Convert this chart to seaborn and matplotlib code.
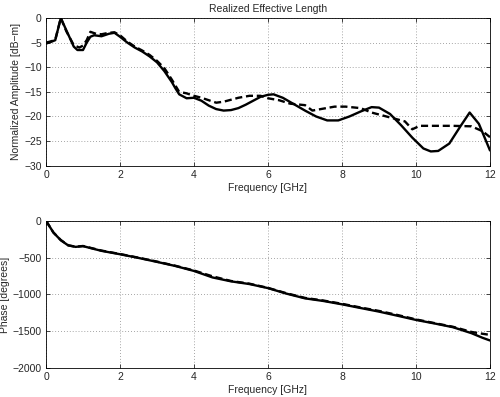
import matplotlib
matplotlib.use("Agg")
import matplotlib.pyplot as plt
import seaborn as sns
import pandas as pd

# Amplitude data
freq_amp_solid = [0, 0.15, 0.25, 0.4, 0.55, 0.75, 0.85, 1.0, 1.1, 1.2, 1.3, 1.5, 1.7, 1.85, 2.0, 2.2, 2.4, 2.6, 2.8, 3.0, 3.2, 3.4, 3.5, 3.6, 3.8, 4.0, 4.2, 4.4, 4.6, 4.8, 5.0, 5.2, 5.4, 5.6, 5.8, 6.0, 6.15, 6.4, 6.7, 7.0, 7.3, 7.6, 7.9, 8.2, 8.5, 8.8, 9.0, 9.3, 9.6, 9.9, 10.2, 10.4, 10.6, 10.9, 11.2, 11.45, 11.7, 12.0]
amp_solid = [-5.2, -4.8, -4.5, 0, -2.5, -5.8, -6.5, -6.5, -5, -3.8, -3.5, -3.7, -3.2, -3.0, -3.8, -5.0, -6.0, -6.8, -7.8, -9.0, -10.8, -13.0, -14.3, -15.5, -16.3, -16.2, -16.8, -17.8, -18.5, -18.8, -18.7, -18.3, -17.6, -16.8, -16.0, -15.6, -15.5, -16.2, -17.5, -18.8, -20.0, -20.8, -20.8, -20.0, -19.0, -18.1, -18.2, -19.5, -21.8, -24.3, -26.5, -27.1, -27.0, -25.5, -22.0, -19.2, -21.5, -26.9]

freq_amp_dash = [0, 0.15, 0.25, 0.4, 0.55, 0.75, 0.9, 1.0, 1.1, 1.2, 1.35, 1.5, 1.7, 1.85, 2.0, 2.2, 2.4, 2.6, 2.8, 3.0, 3.2, 3.4, 3.6, 3.8, 4.0, 4.2, 4.4, 4.6, 4.8, 5.0, 5.2, 5.5, 5.8, 6.0, 6.3, 6.6, 7.0, 7.2, 7.5, 7.8, 8.1, 8.5, 8.8, 9.1, 9.4, 9.7, 9.9, 10.1, 10.5, 11.0, 11.5, 11.8, 12.0]
amp_dash = [-5.0, -4.7, -4.4, 0, -2.7, -5.5, -6.0, -5.6, -4.5, -2.8, -3.2, -3.3, -3.0, -2.9, -3.5, -4.8, -5.8, -6.6, -7.5, -8.7, -10.2, -12.5, -15.0, -15.3, -15.8, -16.2, -16.7, -17.2, -17.0, -16.6, -16.2, -15.8, -15.8, -16.3, -16.7, -17.4, -17.7, -18.8, -18.4, -18.0, -18.0, -18.3, -19.2, -19.8, -20.4, -21.0, -22.6, -21.9, -21.9, -21.9, -22.0, -23.0, -24.2]

# Phase data
freq_phase = [0, 0.2, 0.4, 0.6, 0.8, 1.0, 1.5, 2, 2.5, 3, 3.5, 4, 4.5, 5, 5.5, 6, 6.5, 7, 7.5, 8, 8.5, 9, 9.5, 10, 10.5, 11, 11.5, 11.8, 12]
phase_solid = [0, -160, -265, -335, -355, -345, -409, -455, -505, -559, -615, -682, -770, -823, -860, -915, -990, -1054, -1090, -1135, -1185, -1234, -1290, -1347, -1395, -1446, -1527, -1590, -1626]
phase_dash = [0, -160, -262, -333, -353, -343, -405, -452, -502, -555, -612, -676, -755, -818, -855, -912, -985, -1048, -1084, -1128, -1178, -1225, -1280, -1340, -1390, -1440, -1510, -1535, -1550]

sns.set_style("ticks")
plt.rcParams['font.family'] = ['Liberation Sans', 'DejaVu Sans']

fig = plt.figure(figsize=(5.0, 3.97), dpi=100)
ax1 = fig.add_axes([0.092, 0.5826, 0.888, 0.372])
ax2 = fig.add_axes([0.092, 0.073, 0.888, 0.371])

df_s = pd.DataFrame({"f": freq_amp_solid, "v": amp_solid})
df_d = pd.DataFrame({"f": freq_amp_dash, "v": amp_dash})
sns.lineplot(data=df_d, x="f", y="v", ax=ax1, color="black", lw=1.7, dashes=False, linestyle=(0, (3, 1.6)))
sns.lineplot(data=df_s, x="f", y="v", ax=ax1, color="black", lw=1.7)

dp_s = pd.DataFrame({"f": freq_phase, "v": phase_solid})
dp_d = pd.DataFrame({"f": freq_phase, "v": phase_dash})
sns.lineplot(data=dp_d, x="f", y="v", ax=ax2, color="black", lw=1.7, linestyle=(0, (3, 1.6)))
sns.lineplot(data=dp_s, x="f", y="v", ax=ax2, color="black", lw=1.7)

fs = 7.5
ax1.set_xlim(0, 12)
ax1.set_ylim(-30, 0)
ax1.set_xticks(range(0, 13, 2))
ax1.set_yticks(range(-30, 1, 5))
ax1.set_yticklabels([str(v).replace('-', '\u2212') for v in range(-30, 1, 5)])
ax1.set_xlabel("Frequency [GHz]", fontsize=fs, labelpad=2)
ax1.set_ylabel("Normalized Amplitude [dB\u2212m]", fontsize=fs, labelpad=2)
ax1.set_title("Realized Effective Length", fontsize=fs, pad=4)

ax2.set_xlim(0, 12)
ax2.set_ylim(-2000, 0)
ax2.set_xticks(range(0, 13, 2))
ax2.set_yticks(range(-2000, 1, 500))
ax2.set_yticklabels([str(v).replace('-', '\u2212') for v in range(-2000, 1, 500)])
ax2.set_xlabel("Frequency [GHz]", fontsize=fs, labelpad=2)
ax2.set_ylabel("Phase [degrees]", fontsize=fs, labelpad=2)

for ax in (ax1, ax2):
    ax.grid(True, linestyle=(0, (1, 2.5)), color="#888888", lw=0.6)
    ax.tick_params(direction="in", length=3, width=0.6, labelsize=fs, top=True, right=True, pad=3)
    for sp in ax.spines.values():
        sp.set_visible(True)
        sp.set_linewidth(0.6)
        sp.set_color("black")

fig.savefig("out.png", dpi=100)
